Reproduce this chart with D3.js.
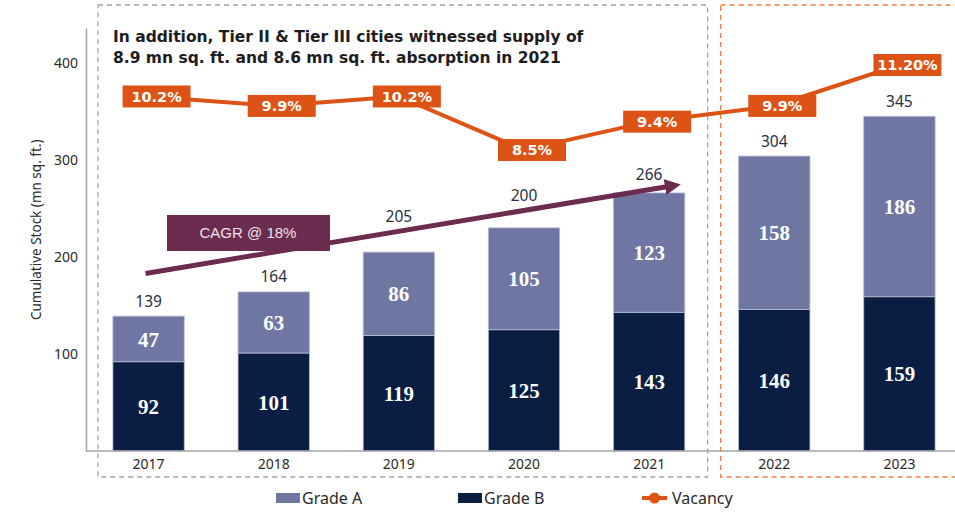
<!DOCTYPE html>
<html>
<head>
<meta charset="utf-8">
<script src="https://cdn.jsdelivr.net/npm/d3@7"></script>
<style>
  body { margin: 0; background: #fff; }
  svg { display: block; }
</style>
</head>
<body>
<div id="chart"></div>
<script>
// data
const years = ['2017', '2018', '2019', '2020', '2021', '2022', '2023'];
const gradeB = [92, 101, 119, 125, 143, 146, 159];
const gradeA = [47, 63, 86, 105, 123, 158, 186];
const totalLabels = ['139', '164', '205', '200', '266', '304', '345'];
const vacancy = [10.2, 9.9, 10.2, 8.5, 9.4, 9.9, 11.2];
const vacancyLabels = ['10.2%', '9.9%', '10.2%', '8.5%', '9.4%', '9.9%', '11.20%'];
const yTicks = [100, 200, 300, 400];
const titleLines = [
    'In addition, Tier II & Tier III cities witnessed supply of',
    '8.9 mn sq. ft. and 8.6 mn sq. ft. absorption in 2021'
];
// CAGR arrow, [year, stock value] at each end
const cagrFrom = ['2017', 183];
const cagrTo = ['2021', 274];
const cagrText = 'CAGR @ 18%';

const colors = {
    gradeA: '#6f76a2',
    gradeB: '#0a1d42',
    vacancy: '#dd5316',
    cagr: '#6b2c4f',
    axis: '#a3a5a9',
    text: '#2a2f45'
};

const width = 955;
const height = 512;
const sans = '"Noto Sans", "Open Sans", sans-serif';

function createChart() {
    const svg = d3.select('#chart')
        .append('svg')
        .attr('width', width)
        .attr('height', height);

    const x = d3.scaleBand()
        .domain(years)
        .range([86, 962])
        .paddingInner(0.43)
        .paddingOuter(0.215);

    const y = d3.scaleLinear()
        .domain([0, 436])
        .range([451, 28]);

    // vacancy sits on its own hidden axis
    const yVac = d3.scaleLinear()
        .domain([8.5, 11.2])
        .range([150, 65]);

    const cx = d => x(d) + x.bandwidth() / 2;

    // dashed frames: actuals vs forecast
    svg.append('rect')
        .attr('x', 98).attr('y', 5)
        .attr('width', x('2022') - 31 - 98)
        .attr('height', 472)
        .attr('fill', 'none')
        .attr('stroke', '#a0a4aa')
        .attr('stroke-width', 1.3)
        .attr('stroke-dasharray', '5,4');

    svg.append('rect')
        .attr('x', x('2022') - 18).attr('y', 5)
        .attr('width', 260)
        .attr('height', 472)
        .attr('fill', 'none')
        .attr('stroke', '#ee7d45')
        .attr('stroke-width', 1.3)
        .attr('stroke-dasharray', '5,4');

    // title
    svg.append('text')
        .attr('x', 113)
        .attr('y', 42)
        .attr('font-family', '"DejaVu Sans", sans-serif')
        .attr('font-weight', 700)
        .attr('font-size', 15.5)
        .attr('fill', '#1d1d1f')
        .selectAll('tspan')
        .data(titleLines)
        .enter().append('tspan')
        .attr('x', 113)
        .attr('dy', (d, i) => i === 0 ? 0 : 21)
        .text(d => d);

    // y axis
    const yAxis = svg.append('g')
        .attr('transform', 'translate(86,0)')
        .call(d3.axisLeft(y).tickValues(yTicks).tickSize(0).tickPadding(8));
    yAxis.select('.domain')
        .attr('stroke', colors.axis)
        .attr('stroke-width', 1.5);
    yAxis.selectAll('text')
        .attr('font-family', sans)
        .attr('font-size', 14)
        .attr('fill', '#2a2a2a');

    svg.append('text')
        .attr('transform', `translate(41,${y(228)}) rotate(-90)`)
        .attr('text-anchor', 'middle')
        .attr('font-family', sans)
        .attr('font-size', 13.5)
        .attr('fill', '#2a2a2a')
        .text('Cumulative Stock (mn sq. ft.)');

    // stacked bars
    const rows = years.map((yr, i) => ({ year: yr, gradeB: gradeB[i], gradeA: gradeA[i] }));
    const stack = d3.stack().keys(['gradeB', 'gradeA'])(rows);

    const layers = svg.append('g')
        .selectAll('g')
        .data(stack)
        .enter().append('g')
        .attr('fill', d => colors[d.key]);

    layers.selectAll('rect')
        .data(d => d)
        .enter().append('rect')
        .attr('x', d => x(d.data.year))
        .attr('y', d => y(d[1]))
        .attr('width', x.bandwidth())
        .attr('height', d => y(d[0]) - y(d[1]))
        .attr('stroke', '#b9bdd3')
        .attr('stroke-width', 0.8);

    layers.selectAll('text')
        .data(d => d)
        .enter().append('text')
        .attr('x', d => cx(d.data.year))
        .attr('y', d => y((d[0] + d[1]) / 2))
        .attr('dy', '0.36em')
        .attr('text-anchor', 'middle')
        .attr('font-family', '"Liberation Serif", serif')
        .attr('font-weight', 700)
        .attr('font-size', 21)
        .attr('fill', '#ffffff')
        .text(d => d[1] - d[0]);

    // x axis
    const xAxis = svg.append('g')
        .attr('transform', `translate(0,${y(0)})`)
        .call(d3.axisBottom(x).tickSize(0).tickPadding(8));
    xAxis.select('.domain').remove();
    xAxis.selectAll('text')
        .attr('font-family', sans)
        .attr('font-size', 14)
        .attr('fill', '#2a2a2a');
    svg.append('line')
        .attr('x1', 86).attr('x2', width)
        .attr('y1', y(0)).attr('y2', y(0))
        .attr('stroke', colors.axis)
        .attr('stroke-width', 1.5);

    // CAGR arrow
    const ax1 = cx(cagrFrom[0]) - 3;
    const ay1 = y(cagrFrom[1]);
    const ax2 = cx(cagrTo[0]) + 27;
    const ay2 = y(cagrTo[1]);
    const arrowY = px => ay1 + (ay2 - ay1) * (px - ax1) / (ax2 - ax1);

    svg.append('defs').append('marker')
        .attr('id', 'head')
        .attr('viewBox', '0 0 10 10')
        .attr('refX', 2).attr('refY', 5)
        .attr('markerWidth', 3.2).attr('markerHeight', 3.2)
        .attr('orient', 'auto')
        .append('path')
        .attr('d', 'M0,0 L10,5 L0,10 Z')
        .attr('fill', colors.cagr);

    svg.append('line')
        .attr('x1', ax1).attr('y1', ay1)
        .attr('x2', ax2 - 8).attr('y2', arrowY(ax2 - 8))
        .attr('stroke', colors.cagr)
        .attr('stroke-width', 5)
        .attr('marker-end', 'url(#head)');

    svg.append('rect')
        .attr('x', 167).attr('y', 215)
        .attr('width', 163).attr('height', 36)
        .attr('fill', colors.cagr);
    svg.append('text')
        .attr('x', 248).attr('y', 233)
        .attr('dy', '0.36em')
        .attr('text-anchor', 'middle')
        .attr('font-family', '"Liberation Sans", Arial, sans-serif')
        .attr('font-size', 15)
        .attr('fill', '#eee3ea')
        .text(cagrText);

    // totals above the bars, lifted over the arrow where they would hit it
    svg.append('g')
        .selectAll('text')
        .data(rows)
        .enter().append('text')
        .attr('x', d => cx(d.year))
        .attr('y', d => {
            const ly = y(d.gradeA + d.gradeB) - 15;
            const px = cx(d.year);
            if (px > ax1 && px < ax2 && Math.abs(ly - arrowY(px)) < 12) {
                return Math.min(ly, arrowY(px) - 15);
            }
            return ly;
        })
        .attr('dy', '0.36em')
        .attr('text-anchor', 'middle')
        .attr('font-family', sans)
        .attr('font-size', 15.5)
        .attr('fill', colors.text)
        .text((d, i) => totalLabels[i]);

    // vacancy line + boxed labels
    const line = d3.line()
        .x((d, i) => cx(years[i]))
        .y(d => yVac(d));

    svg.append('path')
        .datum(vacancy)
        .attr('d', line)
        .attr('fill', 'none')
        .attr('stroke', colors.vacancy)
        .attr('stroke-width', 4);

    const vac = svg.append('g')
        .selectAll('g')
        .data(vacancy)
        .enter().append('g')
        .attr('transform', (d, i) => `translate(${cx(years[i]) + 8},${yVac(d)})`);

    vac.append('rect')
        .attr('x', -34)
        .attr('y', -11)
        .attr('width', 68)
        .attr('height', 22)
        .attr('fill', colors.vacancy);

    vac.append('text')
        .attr('dy', '0.36em')
        .attr('text-anchor', 'middle')
        .attr('font-family', '"DejaVu Sans", sans-serif')
        .attr('font-weight', 700)
        .attr('font-size', 14.5)
        .attr('fill', '#ffffff')
        .text((d, i) => vacancyLabels[i]);

    // legend
    const legend = svg.append('g')
        .attr('font-family', sans)
        .attr('font-size', 16)
        .attr('fill', '#2a2a2a');

    const legendItems = [
        { label: 'Grade A', key: 'gradeA', x: 276 },
        { label: 'Grade B', key: 'gradeB', x: 458 },
        { label: 'Vacancy', key: 'vacancy', x: 642 }
    ];

    legendItems.forEach(item => {
        const g = legend.append('g').attr('transform', `translate(${item.x},498)`);
        if (item.key === 'vacancy') {
            g.append('line')
                .attr('x1', 0).attr('x2', 25)
                .attr('stroke', colors.vacancy)
                .attr('stroke-width', 4);
            g.append('circle')
                .attr('cx', 12.5).attr('r', 5.5)
                .attr('fill', colors.vacancy);
        } else {
            g.append('rect')
                .attr('y', -5).attr('width', 24).attr('height', 10)
                .attr('fill', colors[item.key]);
        }
        g.append('text')
            .attr('x', item.key === 'vacancy' ? 30 : 26)
            .attr('dy', '0.36em')
            .text(item.label);
    });
}

createChart();
</script>
</body>
</html>
